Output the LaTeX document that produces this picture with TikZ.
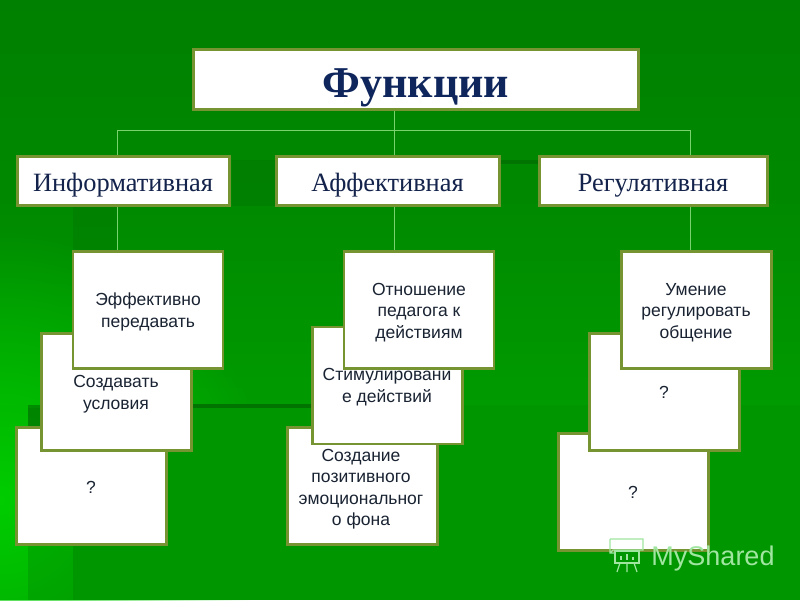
\documentclass[tikz,border=0pt]{standalone}
\usepackage{fontspec}
\setmainfont{Liberation Serif}
\setsansfont{Liberation Sans}
\usetikzlibrary{fadings}
\definecolor{bgTop}{RGB}{0,128,0}
\definecolor{bgMid}{RGB}{0,155,0}
\definecolor{bgLow}{RGB}{0,150,0}
\definecolor{bgGlow}{RGB}{0,205,0}
\definecolor{bgDark}{RGB}{0,112,0}
\definecolor{frameCol}{RGB}{118,148,50}
\definecolor{navyText}{RGB}{14,38,92}
\definecolor{headText}{RGB}{20,35,75}
\definecolor{bodyText}{RGB}{25,35,50}
\definecolor{lineCol}{RGB}{120,210,110}
\definecolor{markCol}{RGB}{160,230,160}
\tikzfading[name=glowfade, inner color=transparent!0, outer color=transparent!100]
\tikzset{
  boxbase/.style={draw=frameCol, line width=2.3pt, fill=white, inner sep=0pt, rectangle},
  titlebox/.style={boxbase, minimum width=445pt, minimum height=60pt},
  headbox/.style={boxbase, minimum height=49pt},
  cardbox/.style={boxbase, minimum width=150pt, minimum height=117pt},
  titletext/.style={font=\bfseries\fontsize{44}{46}\selectfont, text=navyText, inner sep=0pt},
  headtext/.style={font=\fontsize{26.4}{28}\selectfont, text=headText, inner sep=0pt},
  cardtext/.style={font=\sffamily\fontsize{17.5}{21.5}\selectfont, text=bodyText, align=center, inner sep=0pt},
  conn/.style={draw=lineCol, line width=0.8pt},
  markline/.style={draw=markCol, line width=1.2pt}
}
\begin{document}
\begin{tikzpicture}[x=1pt,y=-1pt]
\useasboundingbox (0,0) rectangle (800,600);
% background
\shade[top color=bgTop, bottom color=bgMid, middle color=bgTop!65!bgMid] (0,0) rectangle (800,405);
\fill[bgLow] (0,405) rectangle (800,600);
\begin{scope}
\clip (0,0) rectangle (800,600);
\fill[bgGlow, path fading=glowfade] (0,500) circle (270);
\end{scope}
\fill[bgLow] (73,405) rectangle (800,600);
\fill[bgDark, opacity=.35] (232,160) rectangle (276,206);
\fill[bgDark, opacity=.8] (500,160) rectangle (539,164);
\fill[bgDark, opacity=.3] (73,206) rectangle (117,251);
\fill[bgDark, opacity=.6] (28,405) rectangle (41,427);
\fill[bgDark, opacity=.9] (192,404) rectangle (312,408);
\fill[bgDark, opacity=.25] (28,408) rectangle (73,600);
% bus coordinates
\coordinate (xL) at (117,130);
\coordinate (xC) at (394,130);
\coordinate (xR) at (690,130);
% top level
\node[titlebox] (title) at (416,79.5) {};
\node[headbox, minimum width=212pt] (inf) at (123.5,181) {};
\node[headbox, minimum width=223pt] (aff) at (388,181) {};
\node[headbox, minimum width=228pt] (reg) at (653.5,181) {};
\node[titletext, anchor=base] (ttitle) at (416,97) {Функции};
\node[headtext, anchor=base] (tinf) at (123,191) {Информативная};
\node[headtext, anchor=base] (taff) at (387.5,191) {Аффективная};
\node[headtext, anchor=base] (treg) at (653,191) {Регулятивная};
% cards, back to front
\node[cardbox] (q1) at (91.5,486) {};
\node[cardbox] (soz) at (116.5,392) {};
\node[cardbox] (eff) at (148,310) {};
\node[cardbox] (cre) at (362.5,486) {};
\node[cardbox] (sti) at (387.5,385.5) {};
\node[cardbox] (otn) at (419,310) {};
\node[cardbox] (q3) at (633.5,492) {};
\node[cardbox] (q2) at (664.5,392) {};
\node[cardbox] (ume) at (696.5,310) {};
% connectors
\draw[conn] (title.south -| xC) -- (aff.north -| xC);
\draw[conn] (inf.north -| xL) -- (xL) -- (xR) -- (reg.north -| xR);
\draw[conn] (inf.south -| xL) -- (eff.north -| xL);
\draw[conn] (aff.south -| xC) -- (otn.north -| xC);
\draw[conn] (reg.south -| xR) -- (ume.north -| xR);
% card texts
\node[cardtext] (teff) at (148,312) {Эффективно\\передавать};
\node[cardtext] (tsoz) at (116,394) {Создавать\\условия};
\node[cardtext] (tq1) at (91,487) {?};
\node[cardtext] (totn) at (419,312.5) {Отношение\\педагога к\\действиям};
\node[cardtext] (tsti) at (387,387) {Стимулировани\\е действий};
\node[cardtext] (tcre) at (361,489) {Создание\\позитивного\\эмоциональног\\о фона};
\node[cardtext] (tume) at (696,312.5) {Умение\\регулировать\\общение};
\node[cardtext] (tq2) at (664,392) {?};
\node[cardtext] (tq3) at (633,492) {?};
% watermark
\node[font=\sffamily\fontsize{27}{29}\selectfont, text=markCol, inner sep=0pt, anchor=base] (mark) at (713,565) {MyShared};
\draw[markline] (610,539) -- (643,539) -- (643,550) -- (613,550) -- (610,553) (610,539) -- (610,553) -- (615,553);
\draw[markline] (615,551) -- (639,551) -- (639,563) -- (615,563) -- cycle;
\draw[markline] (620,563) -- (617,572) (627,563) -- (627,572) (634,563) -- (637,572);
\draw[markline] (621,560) -- (621,556) (627,560) -- (627,554) (633,560) -- (633,557);
\end{tikzpicture}
\end{document}
